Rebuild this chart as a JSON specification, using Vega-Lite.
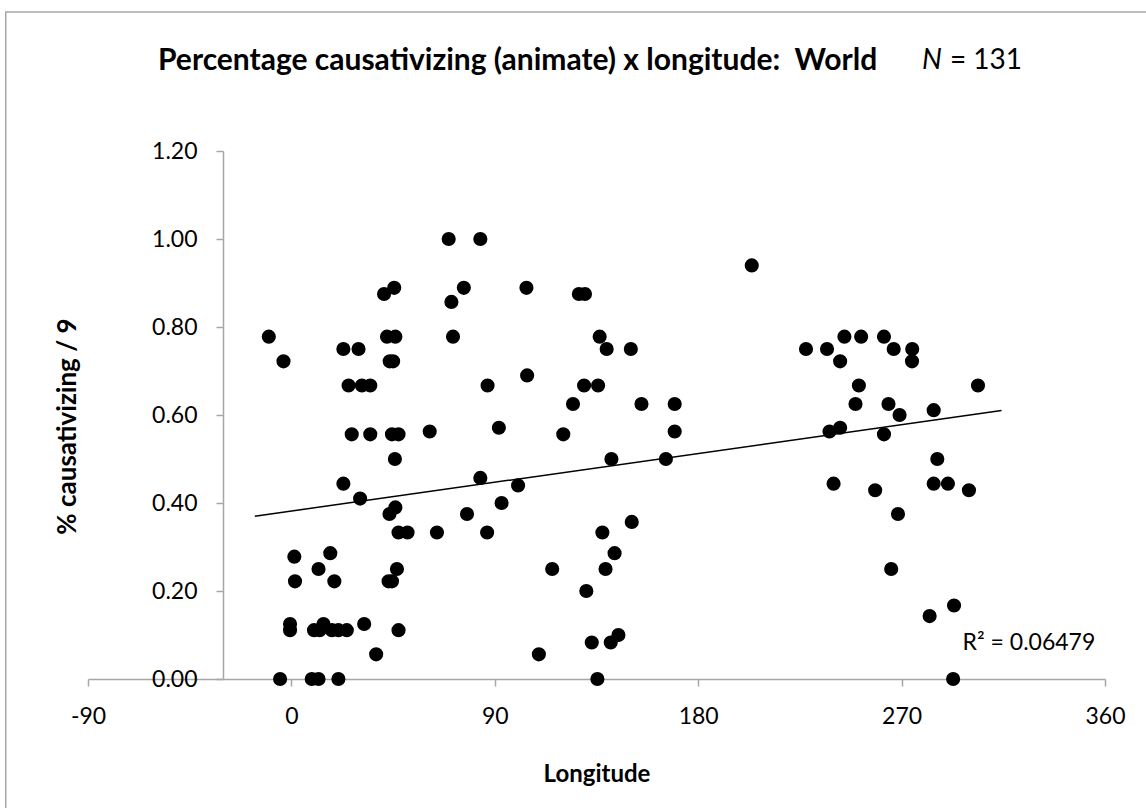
{
  "$schema": "https://vega.github.io/schema/vega-lite/v6.json",
  "autosize": {"type": "none"},
  "padding": {"left": 88, "top": 151, "right": 41, "bottom": 129},
  "width": 1017,
  "height": 528,
  "background": "white",
  "config": {
    "font": "Lato",
    "view": {"stroke": null},
    "axis": {"grid": false, "domainColor": "#a6a6a6", "tickColor": "#a6a6a6", "domainWidth": 1.5, "tickWidth": 1.5, "tickSize": 7, "labelColor": "#000000", "labelFont": "Lato", "labelFontSize": 23, "labelFlush": false, "titleColor": "#000000", "titleFont": "Lato", "titleFontWeight": "bold", "titleFontSize": 24}
  },
  "title": {
    "text": "Percentage causativizing (animate) x longitude:\u00a0 World",
    "font": "Lato",
    "fontSize": 30,
    "fontWeight": "bold",
    "color": "#000000",
    "anchor": "start",
    "frame": "group",
    "dx": 70,
    "baseline": "alphabetic",
    "offset": -89
  },
  "datasets": {
    "points": [
      {"lon": -10, "pct": 0.778}, {"lon": -3.5, "pct": 0.722}, {"lon": -5, "pct": 0}, {"lon": 1.3, "pct": 0.278},
      {"lon": 1.6, "pct": 0.222}, {"lon": -0.6, "pct": 0.125}, {"lon": -0.6, "pct": 0.111}, {"lon": 9, "pct": 0},
      {"lon": 12, "pct": 0}, {"lon": 20.8, "pct": 0}, {"lon": 10, "pct": 0.111}, {"lon": 12.5, "pct": 0.111},
      {"lon": 14.2, "pct": 0.125}, {"lon": 17.9, "pct": 0.111}, {"lon": 20.8, "pct": 0.111}, {"lon": 24.5, "pct": 0.111},
      {"lon": 12, "pct": 0.25}, {"lon": 17.2, "pct": 0.286}, {"lon": 19, "pct": 0.222}, {"lon": 32.2, "pct": 0.125},
      {"lon": 37.5, "pct": 0.056}, {"lon": 23, "pct": 0.444}, {"lon": 30.4, "pct": 0.41}, {"lon": 23, "pct": 0.75},
      {"lon": 29.7, "pct": 0.75}, {"lon": 25.3, "pct": 0.667}, {"lon": 31.2, "pct": 0.667}, {"lon": 34.9, "pct": 0.667},
      {"lon": 26.7, "pct": 0.556}, {"lon": 34.9, "pct": 0.556}, {"lon": 41, "pct": 0.875}, {"lon": 45.5, "pct": 0.889},
      {"lon": 42.3, "pct": 0.778}, {"lon": 46, "pct": 0.778}, {"lon": 43.5, "pct": 0.722}, {"lon": 45, "pct": 0.722},
      {"lon": 44.5, "pct": 0.556}, {"lon": 47.4, "pct": 0.556}, {"lon": 45.8, "pct": 0.5}, {"lon": 46, "pct": 0.39},
      {"lon": 43.4, "pct": 0.375}, {"lon": 47.4, "pct": 0.333}, {"lon": 51.4, "pct": 0.333}, {"lon": 46.7, "pct": 0.25},
      {"lon": 43, "pct": 0.222}, {"lon": 44.5, "pct": 0.222}, {"lon": 47.4, "pct": 0.111}, {"lon": 61.2, "pct": 0.5625},
      {"lon": 64.4, "pct": 0.333}, {"lon": 69.6, "pct": 1.0}, {"lon": 83.6, "pct": 1.0}, {"lon": 70.8, "pct": 0.857},
      {"lon": 76.3, "pct": 0.889}, {"lon": 71.5, "pct": 0.778}, {"lon": 77.7, "pct": 0.375}, {"lon": 83.6, "pct": 0.457},
      {"lon": 86.8, "pct": 0.667}, {"lon": 86.6, "pct": 0.333}, {"lon": 91.8, "pct": 0.571}, {"lon": 93, "pct": 0.4},
      {"lon": 100.3, "pct": 0.44}, {"lon": 104, "pct": 0.889}, {"lon": 104.3, "pct": 0.69}, {"lon": 109.5, "pct": 0.056},
      {"lon": 115.4, "pct": 0.25}, {"lon": 120.3, "pct": 0.556}, {"lon": 124.6, "pct": 0.625}, {"lon": 127.2, "pct": 0.875},
      {"lon": 129.9, "pct": 0.875}, {"lon": 129.5, "pct": 0.667}, {"lon": 135.7, "pct": 0.667}, {"lon": 130.5, "pct": 0.2},
      {"lon": 132.9, "pct": 0.083}, {"lon": 135.4, "pct": 0}, {"lon": 136.4, "pct": 0.778}, {"lon": 137.6, "pct": 0.333},
      {"lon": 139.5, "pct": 0.75}, {"lon": 139, "pct": 0.25}, {"lon": 141.3, "pct": 0.083}, {"lon": 141.6, "pct": 0.5},
      {"lon": 143, "pct": 0.286}, {"lon": 144.7, "pct": 0.1}, {"lon": 150.2, "pct": 0.75}, {"lon": 150.6, "pct": 0.357},
      {"lon": 154.9, "pct": 0.625}, {"lon": 165.7, "pct": 0.5}, {"lon": 169.6, "pct": 0.625}, {"lon": 169.6, "pct": 0.5625},
      {"lon": 203.7, "pct": 0.94}, {"lon": 227.7, "pct": 0.75}, {"lon": 237, "pct": 0.75}, {"lon": 244.7, "pct": 0.778},
      {"lon": 252.1, "pct": 0.778}, {"lon": 262.2, "pct": 0.778}, {"lon": 266.5, "pct": 0.75}, {"lon": 274.7, "pct": 0.75},
      {"lon": 274.6, "pct": 0.722}, {"lon": 242.8, "pct": 0.722}, {"lon": 251.1, "pct": 0.667}, {"lon": 303.8, "pct": 0.667},
      {"lon": 249.6, "pct": 0.625}, {"lon": 264.2, "pct": 0.625}, {"lon": 269.1, "pct": 0.6}, {"lon": 284.2, "pct": 0.611},
      {"lon": 238.1, "pct": 0.5625}, {"lon": 242.8, "pct": 0.571}, {"lon": 262.2, "pct": 0.556}, {"lon": 285.8, "pct": 0.5},
      {"lon": 239.9, "pct": 0.444}, {"lon": 258.3, "pct": 0.429}, {"lon": 284.2, "pct": 0.444}, {"lon": 290.5, "pct": 0.444},
      {"lon": 299.8, "pct": 0.429}, {"lon": 268.4, "pct": 0.375}, {"lon": 265.4, "pct": 0.25}, {"lon": 282.4, "pct": 0.143},
      {"lon": 293.2, "pct": 0.167}, {"lon": 292.8, "pct": 0}
    ],
    "trend": [
      {"lon": -16.2, "pct": 0.37},
      {"lon": 314.2, "pct": 0.61}
    ],
    "one": [{}]
  },
  "layer": [
    {
      "data": {"name": "one"},
      "mark": {"type": "rect", "filled": false, "stroke": "#a6a6a6", "strokeWidth": 1.5},
      "encoding": {
        "x": {"datum": -126.4, "type": "quantitative", "scale": {"domain": [-90, 360], "nice": false, "zero": false}},
        "x2": {"datum": 420},
        "y": {"datum": 1.516, "type": "quantitative"},
        "y2": {"datum": -0.5}
      }
    },
    {
      "data": {"name": "trend"},
      "mark": {"type": "line", "color": "#000000", "strokeWidth": 1.5},
      "encoding": {
        "x": {"field": "lon", "type": "quantitative"},
        "y": {"field": "pct", "type": "quantitative"}
      }
    },
    {
      "data": {"name": "points"},
      "mark": {"type": "circle", "size": 200, "color": "#000000", "opacity": 1},
      "encoding": {
        "x": {
          "field": "lon", "type": "quantitative",
          "scale": {"domain": [-90, 360], "nice": false, "zero": false},
          "axis": {"title": "Longitude", "values": [-90, 0, 90, 180, 270, 360], "labelExpr": "toString(datum.value)", "labelPadding": 19, "titlePadding": 34}
        },
        "y": {
          "field": "pct", "type": "quantitative",
          "scale": {"domain": [0, 1.2], "nice": false, "zero": false},
          "axis": {"title": "% causativizing / 9", "titleFontSize": 26, "titleY": 275, "values": [0, 0.2, 0.4, 0.6, 0.8, 1.0, 1.2], "format": ".2f", "offset": -135, "labelPadding": 19, "titlePadding": 71}
        }
      }
    },
    {
      "data": {"name": "one"},
      "mark": {"type": "text", "align": "left", "baseline": "alphabetic", "fontSize": 23, "font": "Lato", "color": "#000000"},
      "encoding": {
        "x": {"datum": 297, "type": "quantitative"},
        "y": {"datum": 0.066, "type": "quantitative"},
        "text": {"value": "R² = 0.06479"}
      }
    },
    {
      "data": {"name": "one"},
      "mark": {"type": "text", "align": "left", "baseline": "alphabetic", "fontSize": 28, "font": "Lato", "fontStyle": "italic", "color": "#000000"},
      "encoding": {
        "x": {"datum": 279, "type": "quantitative"},
        "y": {"datum": 1.386, "type": "quantitative"},
        "text": {"value": "N"}
      }
    },
    {
      "data": {"name": "one"},
      "mark": {"type": "text", "align": "left", "baseline": "alphabetic", "fontSize": 28, "font": "Lato", "color": "#000000"},
      "encoding": {
        "x": {"datum": 291.4, "type": "quantitative"},
        "y": {"datum": 1.386, "type": "quantitative"},
        "text": {"value": "= 131"}
      }
    }
  ]
}
